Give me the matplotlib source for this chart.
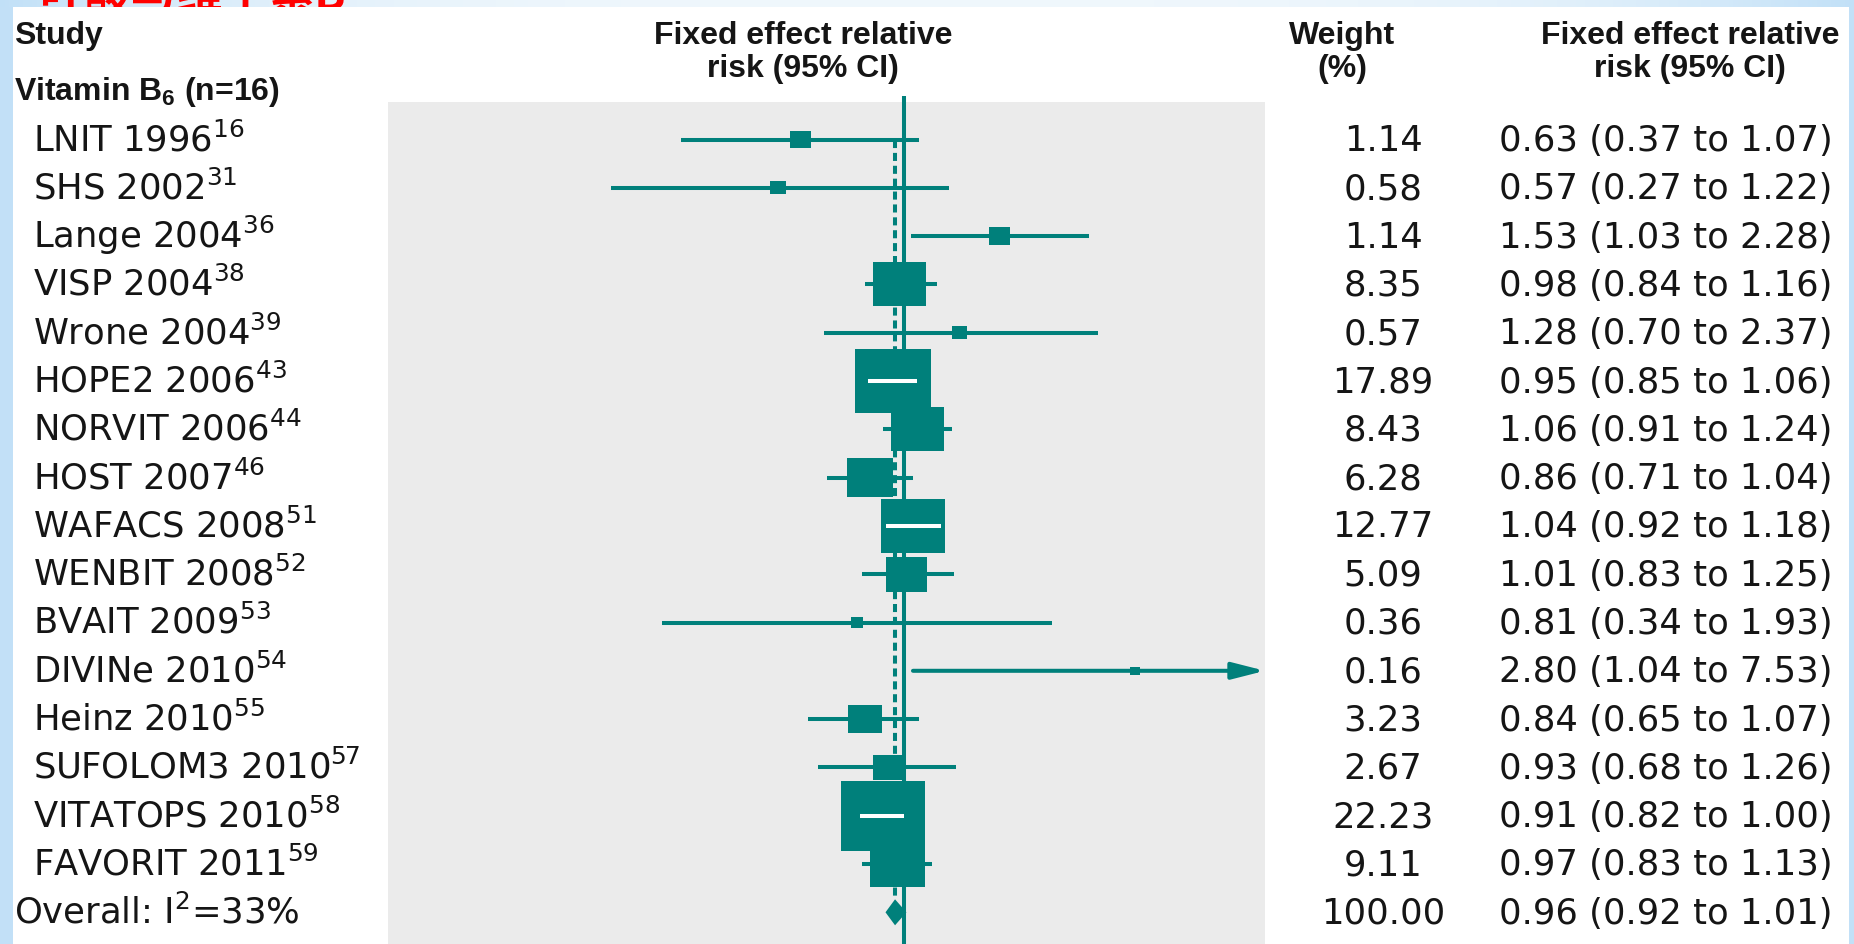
import matplotlib.pyplot as plt
import matplotlib.transforms as mtransforms
from matplotlib.patches import Rectangle, Polygon
import numpy as np

# data
studies = ["LNIT 1996", "SHS 2002", "Lange 2004", "VISP 2004", "Wrone 2004",
           "HOPE2 2006", "NORVIT 2006", "HOST 2007", "WAFACS 2008", "WENBIT 2008",
           "BVAIT 2009", "DIVINe 2010", "Heinz 2010", "SUFOLOM3 2010",
           "VITATOPS 2010", "FAVORIT 2011"]
refs = ["16", "31", "36", "38", "39", "43", "44", "46", "51", "52", "53", "54",
        "55", "57", "58", "59"]
weights = [1.14, 0.58, 1.14, 8.35, 0.57, 17.89, 8.43, 6.28, 12.77, 5.09, 0.36,
           0.16, 3.23, 2.67, 22.23, 9.11]
rr = [0.63, 0.57, 1.53, 0.98, 1.28, 0.95, 1.06, 0.86, 1.04, 1.01, 0.81, 2.80,
      0.84, 0.93, 0.91, 0.97]
ci_low = [0.37, 0.27, 1.03, 0.84, 0.70, 0.85, 0.91, 0.71, 0.92, 0.83, 0.34,
          1.04, 0.65, 0.68, 0.82, 0.83]
ci_high = [1.07, 1.22, 2.28, 1.16, 2.37, 1.06, 1.24, 1.04, 1.18, 1.25, 1.93,
           7.53, 1.07, 1.26, 1.00, 1.13]

overall_label = r"Overall: I$^2$=33%"
overall_weight = 100.00
overall_rr = 0.96
overall_low = 0.92
overall_high = 1.01

W, H = 1854, 944
teal = '#00807b'
xmin, xmax = 0.1, 5

plt.rcParams['mathtext.fontset'] = 'custom'
plt.rcParams['mathtext.rm'] = 'DejaVu Sans'
plt.rcParams['mathtext.bf'] = 'Liberation Sans:bold'

fig = plt.figure(figsize=(W / 100, H / 100), dpi=100)
fig.patch.set_facecolor('#c2e0f7')

# slide background: light blue band on top, fading to white in the middle
band = fig.add_axes([0, 1 - 7 / H, 1, 7 / H], zorder=-3)
t = np.abs(np.linspace(-1, 1, 400)) ** 3
blue = np.array([0.76, 0.88, 0.97])
grad = (1 - t)[:, None] * np.array([0.94, 0.97, 0.99]) + t[:, None] * blue
band.imshow(grad[None, :, :], aspect='auto', extent=[0, 1, 0, 1])
band.set_xlim(0, 1)
band.set_ylim(0, 1)
band.axis('off')

# slide title, hidden behind the chart picture except for its lowest strokes
band.text(40 / W, -0.35, '叶酸与维生素B', color='red', fontsize=33,
          fontweight='bold', family=['Noto Sans CJK SC', 'DejaVu Sans'],
          va='baseline', transform=band.transAxes, clip_on=True)

fig.add_artist(Rectangle((13 / W, 0), (1849 - 13) / W, (H - 7) / H,
                         transform=fig.transFigure, facecolor='white',
                         edgecolor='none', zorder=-1))

# plot panel
row0, row_px = 139.5, 48.3
top_px = 102


def row_of(px):
    return (px - row0) / row_px


ax = fig.add_axes([388 / W, 0, (1265 - 388) / W, (H - top_px) / H])
ax.set_facecolor('#ebebeb')
ax.set_xscale('log')
ax.set_xlim(xmin, xmax)
ax.set_ylim(row_of(H), row_of(top_px))
for s in ax.spines.values():
    s.set_visible(False)
ax.set_xticks([])
ax.set_yticks([])
ax.minorticks_off()

px_per_ln = (1265 - 388) / np.log(xmax / xmin)
lw = 2.9
n = len(studies)

ax.plot([1, 1], [row_of(96), row_of(H)], color=teal, lw=lw, clip_on=False,
        solid_capstyle='butt', zorder=5)
ax.plot([overall_rr, overall_rr], [0, n - 0.3], color=teal, lw=lw,
        dashes=(2, 1.2), zorder=1)

for i in range(n):
    y = i
    if ci_high[i] > xmax:
        ax.annotate('', xy=(xmax, y), xytext=(ci_low[i], y),
                    arrowprops=dict(arrowstyle='-|>,head_length=1.1,head_width=0.28',
                                    color=teal, lw=lw, shrinkA=0, shrinkB=0,
                                    mutation_scale=18), zorder=3)
    else:
        ax.plot([ci_low[i], ci_high[i]], [y, y], color=teal, lw=lw,
                solid_capstyle='butt', zorder=3)
    h_px = 14.5 * np.sqrt(weights[i]) + 2
    half = 1.2 * h_px / 2 / px_per_ln
    b_lo, b_hi = rr[i] * np.exp(-half), rr[i] * np.exp(half)
    h = h_px / row_px
    ax.add_patch(Rectangle((b_lo, y - h / 2), b_hi - b_lo, h, facecolor=teal,
                           edgecolor='none', zorder=4))
    # CI lying wholly inside the box is shown in white
    if ci_low[i] > b_lo and ci_high[i] < b_hi:
        ax.plot([ci_low[i], ci_high[i]], [y, y], color='white', lw=lw,
                solid_capstyle='butt', zorder=6)

yo = n
dh = 13 / row_px
ax.add_patch(Polygon([(overall_low, yo), (overall_rr, yo - dh),
                      (overall_high, yo), (overall_rr, yo + dh)],
                     closed=True, facecolor=teal, edgecolor='none', zorder=4))

# text columns
trans = mtransforms.blended_transform_factory(fig.transFigure, ax.transData)
base = 11.5 / row_px
body = dict(transform=trans, fontsize=25.5, family='DejaVu Sans', va='baseline',
            color='#151515')
head = dict(transform=trans, fontsize=23, family='Liberation Sans',
            fontweight='bold', va='baseline', color='#151515')

ax.text(14 / W, row_of(44), 'Study', **head)
ax.text(14 / W, row_of(100), r'Vitamin B$_\mathbf{6}$ (n=16)', **head)
ax.text(803 / W, row_of(44), 'Fixed effect relative', ha='center', **head)
ax.text(803 / W, row_of(77), 'risk (95% CI)', ha='center', **head)
ax.text(1342 / W, row_of(44), 'Weight', ha='center', **head)
ax.text(1342 / W, row_of(77), '(%)', ha='center', **head)
ax.text(1690 / W, row_of(44), 'Fixed effect relative', ha='center', **head)
ax.text(1690 / W, row_of(77), 'risk (95% CI)', ha='center', **head)

for i in range(n):
    ax.text(33 / W, i + base, f"{studies[i]}$^{{{refs[i]}}}$", **body)
    ax.text(1383 / W, i + base, f"{weights[i]:.2f}", ha='center', **body)
    ax.text(1499 / W, i + base,
            f"{rr[i]:.2f} ({ci_low[i]:.2f} to {ci_high[i]:.2f})", **body)

ax.text(14 / W, yo + base, overall_label, **body)
ax.text(1383 / W, yo + base, f"{overall_weight:.2f}", ha='center', **body)
ax.text(1499 / W, yo + base,
        f"{overall_rr:.2f} ({overall_low:.2f} to {overall_high:.2f})", **body)

fig.savefig('out.png', dpi=100, facecolor=fig.get_facecolor())
